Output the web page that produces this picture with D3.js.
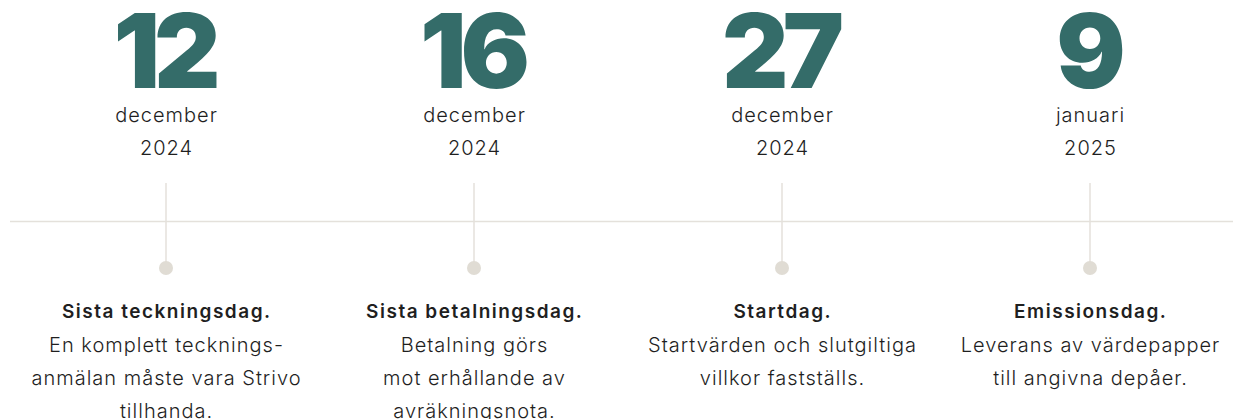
<!DOCTYPE html>
<html><head><meta charset="utf-8">
<script src="https://cdn.jsdelivr.net/npm/d3@7"></script>
<style>
html,body{margin:0;padding:0;background:#fff;}
svg{display:block;}
</style></head>
<body>
<svg id="c" width="1233" height="419"></svg>
<script>
const days = ["12", "16", "27", "9"];
const months = ["december", "december", "december", "januari"];
const years = ["2024", "2024", "2024", "2025"];
const titles = ["Sista teckningsdag.", "Sista betalningsdag.", "Startdag.", "Emissionsdag."];
const descriptions = [
  ["En komplett tecknings-", "anmälan måste vara Strivo", "tillhanda."],
  ["Betalning görs", "mot erhållande av", "avräkningsnota."],
  ["Startvärden och slutgiltiga", "villkor fastställs."],
  ["Leverans av värdepapper", "till angivna depåer."]
];

const svg = d3.select("#c");
const W = 1233;
const x = d3.scalePoint().domain(d3.range(days.length)).range([166, 1090]);

const lineColor = "#e4e1db";
const dotColor = "#e0dcd4";
const green = "#346c69";
const ink = "#1f1f1f";

svg.append("line").attr("x1", 10).attr("x2", W).attr("y1", 221.5).attr("y2", 221.5)
  .attr("stroke", lineColor).attr("stroke-width", 1.5);

const g = svg.selectAll("g.ev").data(d3.range(days.length)).join("g")
  .attr("class", "ev").attr("transform", i => `translate(${x(i)},0)`);

g.append("line").attr("x1", 0).attr("x2", 0).attr("y1", 183).attr("y2", 268)
  .attr("stroke", lineColor).attr("stroke-width", 1.5);
g.append("circle").attr("cy", 268).attr("r", 7).attr("fill", dotColor);

g.append("text").attr("y", 88).attr("dx", -2).attr("text-anchor", "middle")
  .attr("font-family", "Inter").attr("font-weight", 900).attr("font-size", 103)
  .attr("letter-spacing", "-6").attr("fill", green)
  .text(i => days[i]);

const small = sel => sel.attr("text-anchor", "middle").attr("dx", 0.5)
  .attr("font-family", "Inter").attr("font-weight", 300).attr("font-size", 20)
  .attr("letter-spacing", "1").attr("fill", ink);

g.append("text").attr("y", 122).call(small).text(i => months[i]);
g.append("text").attr("y", 155).call(small).text(i => years[i]);

g.append("text").attr("y", 318).attr("dx", 0.75).attr("text-anchor", "middle")
  .attr("font-family", "Inter").attr("font-weight", 600).attr("font-size", 19)
  .attr("letter-spacing", "1.5").attr("fill", ink).text(i => titles[i]);

g.each(function(i) {
  d3.select(this).selectAll("text.d").data(descriptions[i]).join("text")
    .attr("class", "d")
    .attr("y", (d, j) => 352 + j * 33)
    .call(small).text(d => d);
});
</script>
</body></html>
